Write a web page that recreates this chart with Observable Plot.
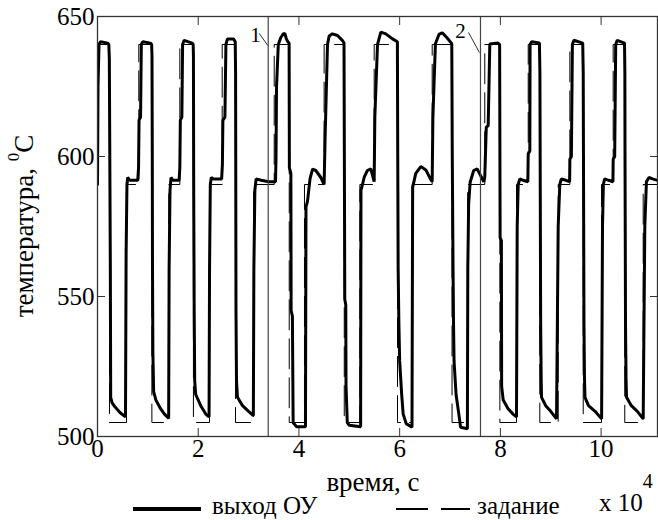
<!DOCTYPE html>
<html><head><meta charset="utf-8">
<script src="https://cdn.jsdelivr.net/npm/d3@7"></script>
<script src="https://cdn.jsdelivr.net/npm/@observablehq/plot@0.6"></script>
<style>
html,body{margin:0;padding:0;background:#fff;}
#wrap{position:relative;width:658px;height:520px;overflow:hidden;font-family:"Liberation Serif","Times New Roman",serif;color:#000;}
.ov{position:absolute;white-space:nowrap;font-size:25px;line-height:1;}
.sw{position:absolute;background:#000;}
.sup{position:relative;}
</style></head><body>
<div id="wrap"></div>
<script>
// output of the controlled object (время, x10^4 s ; температура, °C)
const outT = [0,0.01,0.03,0.06,0.2,0.225,
0.235,0.255,0.262,0.29,0.35,0.45,0.556,0.568,0.585,0.6,0.64,0.80,0.815,0.825,0.855,0.87,0.9,1.05,1.075,
1.082,1.088,1.092,1.1,1.115,1.16,1.25,1.33,1.413,1.422,1.44,1.46,1.5,1.62,1.635,1.645,1.675,1.69,1.72,1.88,1.9,
1.905,1.91,1.92,1.93,1.95,2.05,2.15,2.215,2.225,2.24,2.26,2.3,2.465,2.48,2.49,2.53,2.55,2.58,2.7,2.735,
2.742,2.745,2.75,2.76,2.78,2.88,3.0,3.095,3.105,3.125,3.15,3.25,3.4,3.535,
3.545,3.555,3.59,3.64,3.69,3.72,3.75,3.78,3.805,
3.81,3.84,3.845,3.87,3.885,3.95,4.13,4.14,4.17,4.22,4.27,4.335,4.435,4.5,4.52,4.567,4.6,4.666,4.766,4.865,4.895,
4.902,4.91,4.93,4.935,4.96,5.0,5.225,5.232,5.262,5.296,5.36,5.427,5.494,5.507,5.56,5.626,5.725,5.858,5.955,
5.962,5.97,5.985,6.0,6.04,6.07,6.13,6.245,6.258,6.32,6.42,6.52,6.61,6.646,6.66,6.71,6.78,6.845,6.94,7.035,
7.045,7.06,7.07,7.08,7.12,7.175,7.21,7.345,7.353,7.37,7.40,7.47,7.54,7.59,7.67,7.69,7.72,7.758,7.79,7.95,7.985,
7.995,8.02,8.025,8.056,8.15,8.25,8.32,8.334,8.354,8.386,8.45,8.545,8.553,8.585,8.59,8.62,8.775,
8.785,8.79,8.80,8.81,8.817,8.9,9.0,9.115,9.148,9.18,9.21,9.3,9.375,9.38,9.41,9.43,9.46,9.635,
9.645,9.65,9.66,9.67,9.68,9.75,9.88,10.01,10.028,10.045,10.07,10.15,10.235,10.24,10.27,10.29,10.32,10.465,
10.472,10.475,10.485,10.495,10.505,10.6,10.72,10.836,10.868,10.9,10.95,11.02,11.2];
const outV = [590,625,640,641,640.5,640,
635,560,514,512,510.5,508.5,507,565,590,592.5,591.5,591.5,596,613,614,640,641,640.5,640,
636,600,560,530,516,513,510,508,506.5,560,588,592.5,591.5,591.5,596,613,614,640,641.5,640.5,640,
636,590,545,520,515,511,508,507,560,590,592.5,592,592,597,613,614,640,642,642,641,
630,600,545,520,514,511,509,507.5,560,588,592,591.5,591,591,
600,625,640,642.5,643.8,644,642,641,640.5,
596,594,545,543,505,503.5,503.5,582,584,592,595.5,595,592.5,590,607,640,643,643.8,643.2,641.4,640.5,
600,549,547,518,505,504,503.5,588,590,592.6,595,595.6,591,614,640,644.4,643.8,642,641,
600,560,540,527,515,508,504.6,503.3,589,594,596.4,595.2,592,591,614,640.3,643.6,644.2,642.4,640.3,
600,560,540,527,515,508,503.3,502.8,560,583,590.8,595,595.6,593.8,591,592.6,610.5,611,640.2,640.5,640,
571,570,518,513,510,508,507,575,590,592,591.5,591,601,602,640,641,640.5,
630,600,540,521,514,511,509,506.3,575,590,592,591.5,591,599,600,640,641.5,640.5,
630,600,540,521,514,511,509,506.3,575,590,592,591.5,591,599,600,640,641.5,640.5,
630,600,540,521,514,511,509,506.3,575,591,592.5,592,591];
// setpoint (step changes)
const setT = [0,0.238,0.576,0.82,1.08,1.416,1.635,1.905,2.224,2.476,2.74,3.10,3.509,3.807,4.11,4.50,4.9,5.21,5.494,5.957,6.25,6.646,7.04,7.35,7.69,7.99,8.32,8.553,8.783,9.148,9.38,9.645,10.008,10.24,10.47,10.836,11.2];
const setV = [640,505,590,640,505,590,640,505,590,640,505,590,640,505,590,640,505,590,640,505,590,640,505,590,640,505,590,640,505,590,640,505,590,640,505,590,590];
const xTicks = [0,2,4,6,8,10];
const yTicks = [500,550,600,650];
const markerX = [3.39,7.605];
const markerText = ["1","2"];
const markerLabelX = [3.137,7.21];
const markerLabelY = [643.4,644.8];
const leaderX1 = [3.21,7.367], leaderY1 = [644,644.3];
const leaderX2 = [3.383,7.585], leaderY2 = [639.6,637.1];

const outData = outT.map((t,i)=>({t, v: outV[i]}));
const setData = setT.map((t,i)=>({t, v: setV[i]}));
const labels = markerText.map((s,i)=>({s, x: markerLabelX[i], y: markerLabelY[i]}));
const leaders = markerText.map((s,i)=>({x1: leaderX1[i], y1: leaderY1[i], x2: leaderX2[i], y2: leaderY2[i]}));

const chart = Plot.plot({
  width: 658, height: 520,
  marginLeft: 97, marginRight: 1, marginTop: 16, marginBottom: 84,
  style: {fontFamily: '"Liberation Serif","Times New Roman",serif', fontSize: "25px", color: "#000", background: "#fff"},
  x: {domain: [0, 11.12], label: null},
  y: {domain: [500, 650], label: null},
  marks: [
    Plot.line(setData, {x: "t", y: "v", curve: "step-after", stroke: "#000", strokeWidth: 1, strokeDasharray: "30,9", clip: true}),
    Plot.line(outData, {x: "t", y: "v", stroke: "#000", strokeWidth: 3, strokeLinejoin: "miter", clip: true}),
    Plot.ruleX(markerX, {stroke: "#444", strokeWidth: 1.2}),
    Plot.frame({stroke: "#333", strokeWidth: 1.3}),
    Plot.axisX(xTicks, {anchor: "bottom", tickSize: -8, tickPadding: 11, tickFormat: d => String(d), label: null, stroke: "#333"}),
    Plot.axisX(xTicks, {anchor: "top", tickSize: -8, tickFormat: () => "", label: null, stroke: "#333"}),
    Plot.axisY(yTicks, {anchor: "left", tickSize: -8, tickPadding: 11, tickFormat: d => String(d), label: null, stroke: "#333"}),
    Plot.axisY(yTicks, {anchor: "right", tickSize: -8, tickFormat: () => "", label: null, stroke: "#333"}),
    Plot.link(leaders, {x1: "x1", y1: "y1", x2: "x2", y2: "y2", stroke: "#333", strokeWidth: 1}),
    Plot.text(labels, {x: "x", y: "y", text: "s", fontSize: 21, fill: "#000"})
  ]
});
const wrap = document.getElementById("wrap");
wrap.appendChild(chart);

function ov(html, css){ const d=document.createElement("div"); d.className="ov"; d.innerHTML=html; Object.assign(d.style, css); wrap.appendChild(d); return d; }
function sw(css){ const d=document.createElement("div"); d.className="sw"; Object.assign(d.style, css); wrap.appendChild(d); return d; }
// y-axis title (rotated)
ov('температура, <span class="sup" style="font-size:17px;top:-14px">0</span>C',
   {left:"11px", top:"376px", width:"300px", fontSize:"27px", textAlign:"center", transformOrigin:"0 0", transform:"rotate(-90deg)"});
// x-axis title
ov('время, с', {left:"273px", top:"469px", width:"200px", fontSize:"27px", textAlign:"center"});
// exponent
ov('x 10<span class="sup" style="font-size:20px;top:-23px">4</span>', {left:"599px", top:"490px"});
// legend
sw({left:"133px", top:"507px", width:"68px", height:"4px"});
ov('выход ОУ', {left:"212px", top:"493px"});
sw({left:"396px", top:"508px", width:"32px", height:"2px"});
sw({left:"441px", top:"508px", width:"29px", height:"2px"});
ov('задание', {left:"477px", top:"493px"});
</script>
</body></html>
